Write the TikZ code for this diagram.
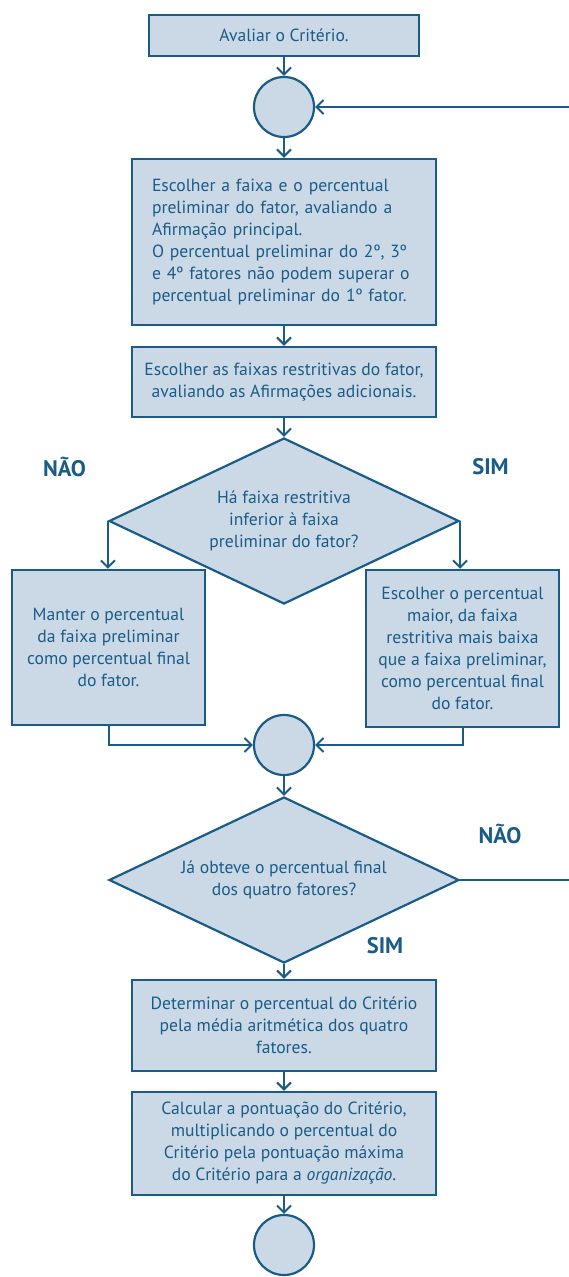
\documentclass[tikz,border=0pt]{standalone}
\usepackage{fontspec}
\setmainfont{PT Sans}
\usetikzlibrary{arrows.meta,shapes.geometric}
\definecolor{bd}{HTML}{1A5C88}
\definecolor{fl}{HTML}{CBD9E6}
\begin{document}
\begin{tikzpicture}[x=1pt,y=-1pt,
 box/.style={draw=bd, fill=fl, line width=2.4pt, text=bd, font=\fontsize{17.6}{22}\selectfont, align=center, inner sep=0pt},
 circ/.style={circle, draw=bd, fill=fl, line width=2.2pt, minimum size=60pt, inner sep=0pt},
 dia/.style={diamond, draw=bd, fill=fl, line width=2.2pt, text=bd, font=\fontsize{17.6}{22}\selectfont, align=center, inner sep=0pt, aspect=2.1, minimum width=350pt, minimum height=166pt},
 arr/.style={draw=bd, line width=2pt, -{Straight Barb[length=7pt,width=14pt,line width=2pt]}},
 ln/.style={draw=bd, line width=2pt},
 lbl/.style={text=bd, font=\fontsize{22.5}{24}\selectfont\bfseries}]
\useasboundingbox (0,0) rectangle (569,1277);

\node[box, minimum width=270pt, minimum height=41pt] (b1) at (284,35.5) {Avaliar o Critério.};
\node[circ] (c1) at (284,107) {};
\node[box, minimum width=304pt, minimum height=166pt, text width=264pt, align=left] (b2) at (284,242)
 {Escolher a faixa e o percentual\\preliminar do fator, avaliando a\\Afirmação principal.\\O percentual preliminar do 2º, 3º\\e 4º fatores não podem superar o\\percentual preliminar do 1º fator.};
\node[box, minimum width=304pt, minimum height=70pt] (b3) at (284,382)
 {Escolher as faixas restritivas do fator,\\avaliando as Afirmações adicionais.};
\node[dia] (d1) at (284,521) {Há faixa restritiva\\inferior à faixa\\preliminar do fator?};
\node[box, minimum width=193pt, minimum height=155pt] (b4) at (108.5,647.5)
 {Manter o percentual\\da faixa preliminar\\como percentual final\\do fator.};
\node[box, minimum width=193pt, minimum height=157pt] (b5) at (462.5,648.5)
 {Escolher o percentual\\maior, da faixa\\restritiva mais baixa\\que a faixa preliminar,\\como percentual final\\do fator.};
\node[circ] (c2) at (284,745) {};
\node[dia] (d2) at (284,880) {Já obteve o percentual final\\dos quatro fatores?};
\node[box, minimum width=304pt, minimum height=91pt] (b6) at (284,1025.5)
 {Determinar o percentual do Critério\\pela média aritmética dos quatro\\fatores.};
\node[box, minimum width=304pt, minimum height=103pt] (b7) at (284,1143.5)
 {Calcular a pontuação do Critério,\\multiplicando o percentual do\\Critério pela pontuação máxima\\do Critério para a \textit{organização}.};
\node[circ] (c3) at (284,1245) {};

\node[lbl] (n1) at (64.5,467) {NÃO};
\node[lbl] (s1) at (490.5,467) {SIM};
\node[lbl] (n2) at (500,834) {NÃO};
\node[lbl] (s2) at (385,946) {SIM};

\coordinate (r1) at (569,107);
\coordinate (r2) at (569,880);

\draw[arr] (b1) -- (c1);
\draw[arr] (r1) -- (c1);
\draw[arr] (c1) -- (b2);
\draw[arr] (b2) -- (b3);
\draw[arr] (b3) -- (d1);
\draw[arr] (d1.west) -- (d1.west |- b4.north);
\draw[arr] (d1.east) -- (d1.east |- b5.north);
\draw[arr] (b4.south) |- (c2.west);
\draw[arr] (b5.south) |- (c2.east);
\draw[arr] (c2) -- (d2);
\draw[ln] (d2.east) -- (r2);
\draw[arr] (d2) -- (b6);
\draw[arr] (b6) -- (b7);
\draw[arr] (b7) -- (c3);
\end{tikzpicture}
\end{document}
